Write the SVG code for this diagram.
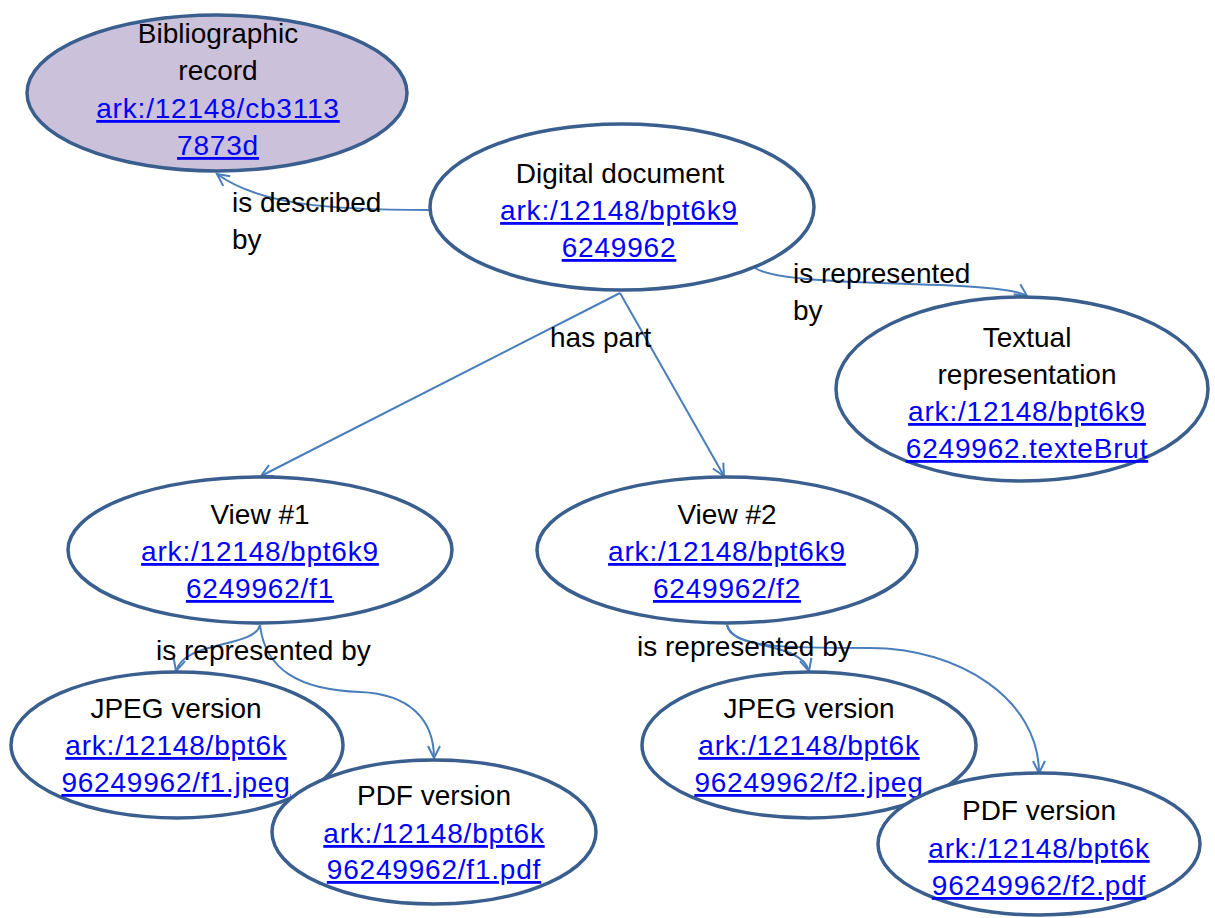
<svg xmlns="http://www.w3.org/2000/svg" width="1215" height="918" viewBox="0 0 1215 918">
<style>
.node{fill:#ffffff;stroke:#3a5f8f;stroke-width:3.5}
.bib{fill:#ccc1da}
.t{font-family:"Liberation Sans",Arial,sans-serif;font-size:28px;fill:#000;text-anchor:middle}
.l{font-family:"Liberation Sans",Arial,sans-serif;font-size:28px;fill:#0000ff;text-anchor:middle;text-decoration:underline;letter-spacing:0.8px}
.lab{font-family:"Liberation Sans",Arial,sans-serif;font-size:28px;fill:#000}
.edge{fill:none;stroke:#4a7ebb;stroke-width:2}
</style>
<defs>
<marker id="arr" markerWidth="16" markerHeight="16" refX="13" refY="7" orient="auto" markerUnits="userSpaceOnUse">
<path d="M1,1 L13,7 L1,13" fill="none" stroke="#4a7ebb" stroke-width="2"/>
</marker>
</defs>
<rect width="1215" height="918" fill="#ffffff"/>
<g id="connectors">
<path class="edge" d="M430,210 C 330,210 260,205 217,174" marker-end="url(#arr)"/>
<path class="edge" d="M755,268 C 790,290 1000,278 1027,296" marker-end="url(#arr)"/>
<path class="edge" d="M620,293 L261,476" marker-end="url(#arr)"/>
<path class="edge" d="M620,293 L724,476" marker-end="url(#arr)"/>
<path class="edge" d="M260,625 C 255,648 185,640 176,671" marker-end="url(#arr)"/>
<path class="edge" d="M260,625 C 265,670 300,690 360,692 C 410,694 434,720 434,758" marker-end="url(#arr)"/>
<path class="edge" d="M727,625 C 730,650 800,640 809,671" marker-end="url(#arr)"/>
<path class="edge" d="M727,625 C 735,648 780,648 870,648 C 960,648 1039,700 1039,773" marker-end="url(#arr)"/>
<text class="lab" x="232" y="212">is described</text>
<text class="lab" x="232" y="249">by</text>
<text class="lab" x="793" y="283">is represented</text>
<text class="lab" x="793" y="320">by</text>
<text class="lab" x="550" y="347">has part</text>
<text class="lab" x="156" y="660">is represented by</text>
<text class="lab" x="637" y="656">is represented by</text>
</g>
<g id="bibliographic-record">
<ellipse class="node bib" cx="217" cy="93" rx="190" ry="78"/>
<text class="t" x="218" y="43">Bibliographic</text>
<text class="t" x="218" y="80">record</text>
<text class="l" x="218" y="118">ark:/12148/cb3113</text>
<text class="l" x="218" y="155">7873d</text>
</g>
<g id="digital-document">
<ellipse class="node" cx="622" cy="207" rx="192" ry="83"/>
<text class="t" x="620" y="183">Digital document</text>
<text class="l" x="619" y="220">ark:/12148/bpt6k9</text>
<text class="l" x="619" y="257">6249962</text>
</g>
<g id="textual-representation">
<ellipse class="node" cx="1022" cy="389" rx="186" ry="92"/>
<text class="t" x="1027" y="347">Textual</text>
<text class="t" x="1027" y="384">representation</text>
<text class="l" x="1027" y="421">ark:/12148/bpt6k9</text>
<text class="l" x="1027" y="458">6249962.texteBrut</text>
</g>
<g id="view-1">
<ellipse class="node" cx="260" cy="550" rx="192" ry="73"/>
<text class="t" x="260" y="524">View #1</text>
<text class="l" x="260" y="561">ark:/12148/bpt6k9</text>
<text class="l" x="260" y="598">6249962/f1</text>
</g>
<g id="view-2">
<ellipse class="node" cx="727" cy="550" rx="190" ry="73"/>
<text class="t" x="727" y="524">View #2</text>
<text class="l" x="727" y="561">ark:/12148/bpt6k9</text>
<text class="l" x="727" y="598">6249962/f2</text>
</g>
<g id="jpeg-1">
<ellipse class="node" cx="177" cy="745" rx="166" ry="73"/>
<text class="t" x="176" y="718">JPEG version</text>
<text class="l" x="176" y="755">ark:/12148/bpt6k</text>
<text class="l" x="176" y="792">96249962/f1.jpeg</text>
</g>
<g id="pdf-1">
<ellipse class="node" cx="434" cy="832" rx="162" ry="72"/>
<text class="t" x="434" y="805">PDF version</text>
<text class="l" x="434" y="843">ark:/12148/bpt6k</text>
<text class="l" x="434" y="879">96249962/f1.pdf</text>
</g>
<g id="jpeg-2">
<ellipse class="node" cx="809" cy="745" rx="167" ry="73"/>
<text class="t" x="809" y="718">JPEG version</text>
<text class="l" x="809" y="755">ark:/12148/bpt6k</text>
<text class="l" x="809" y="792">96249962/f2.jpeg</text>
</g>
<g id="pdf-2">
<ellipse class="node" cx="1039" cy="844" rx="161" ry="71"/>
<text class="t" x="1039" y="820">PDF version</text>
<text class="l" x="1039" y="858">ark:/12148/bpt6k</text>
<text class="l" x="1039" y="895">96249962/f2.pdf</text>
</g>
</svg>
